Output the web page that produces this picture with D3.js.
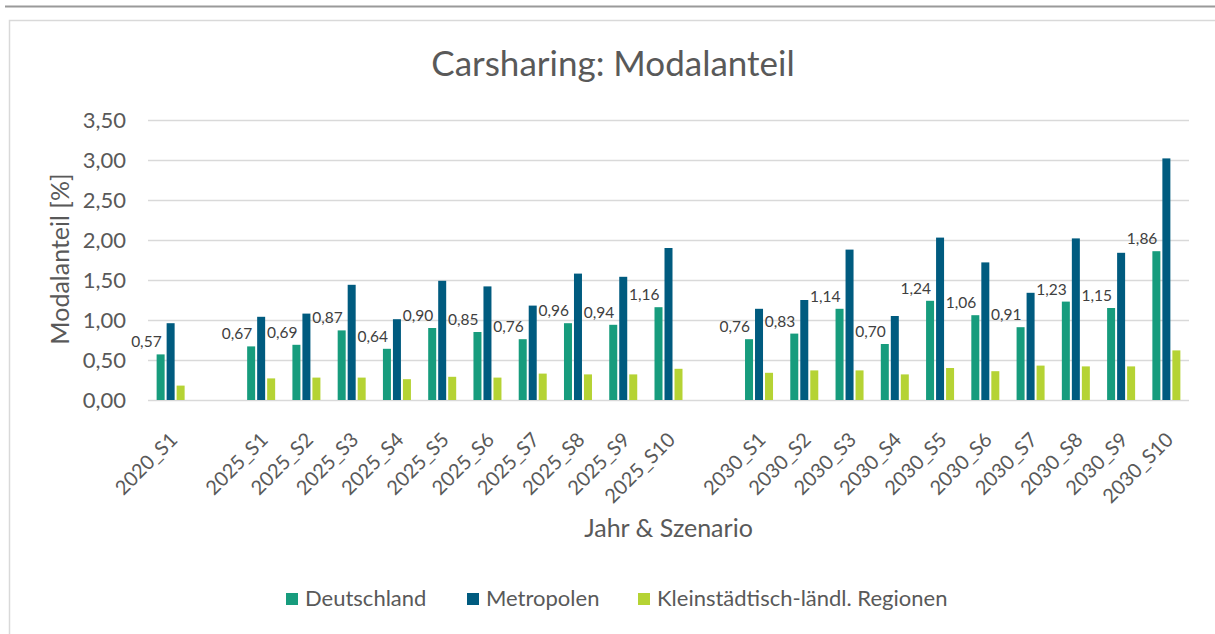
<!DOCTYPE html>
<html>
<head>
<meta charset="utf-8">
<script src="https://cdn.jsdelivr.net/npm/d3@7"></script>
<style>
  body { margin: 0; background: #fff; }
  svg { display: block; }
  text { font-family: Lato, "Open Sans", sans-serif; fill: #595959; }
</style>
</head>
<body>
<div id="chart"></div>
<script>
// categories, with one empty slot between the years
const categories2020 = ["2020_S1"];
const categories2025 = ["2025_S1", "2025_S2", "2025_S3", "2025_S4", "2025_S5", "2025_S6", "2025_S7", "2025_S8", "2025_S9", "2025_S10"];
const categories2030 = ["2030_S1", "2030_S2", "2030_S3", "2030_S4", "2030_S5", "2030_S6", "2030_S7", "2030_S8", "2030_S9", "2030_S10"];

const seriesNames = ["Deutschland", "Metropolen", "Kleinstädtisch-ländl. Regionen"];
const seriesColors = ["#179c7d", "#005b7f", "#b5d334"];

// values in %, same order as the categories
const deutschland = [0.57, 0.67, 0.69, 0.87, 0.64, 0.90, 0.85, 0.76, 0.96, 0.94, 1.16, 0.76, 0.83, 1.14, 0.70, 1.24, 1.06, 0.91, 1.23, 1.15, 1.86];
const metropolen = [0.96, 1.04, 1.08, 1.44, 1.01, 1.49, 1.42, 1.18, 1.58, 1.54, 1.90, 1.14, 1.25, 1.88, 1.05, 2.03, 1.72, 1.34, 2.02, 1.84, 3.02];
const kleinstaedtisch = [0.18, 0.27, 0.28, 0.28, 0.26, 0.29, 0.28, 0.33, 0.32, 0.32, 0.39, 0.34, 0.37, 0.37, 0.32, 0.40, 0.36, 0.43, 0.42, 0.42, 0.62];

const yTicks = [0, 0.5, 1, 1.5, 2, 2.5, 3, 3.5];

const W = 1215, H = 634;
var margin = {top: 120, right: 26, bottom: 234, left: 148};
var width = W - margin.left - margin.right,
    height = H - margin.top - margin.bottom;

var categories = categories2020.concat(categories2025, categories2030);
var slots = categories2020.concat(["gap1"], categories2025, ["gap2"], categories2030);
var seriesValues = [deutschland, metropolen, kleinstaedtisch];

var rows = categories.map(function(c, i) {
  return {cat: c, values: seriesValues.map(function(s, k) { return {key: seriesNames[k], v: s[i]}; })};
});

var fmt = function(v) { return d3.format(".2f")(v).replace(".", ","); };

var svg = d3.select("#chart").append("svg")
  .attr("width", W)
  .attr("height", H);

// page line and chart frame
svg.append("line")
  .attr("x1", 5).attr("x2", W).attr("y1", 6.5).attr("y2", 6.5)
  .attr("stroke", "#9a9a9a").attr("stroke-width", 2);
svg.append("rect")
  .attr("x", 9.5).attr("y", 20.5).attr("width", W + 20).attr("height", H + 20)
  .attr("fill", "none").attr("stroke", "#d9d9d9").attr("stroke-width", 1.5);

svg.append("text")
  .attr("x", 613).attr("y", 76)
  .attr("text-anchor", "middle")
  .style("font-size", "35px")
  .text("Carsharing: Modalanteil");

var g = svg.append("g")
  .attr("transform", "translate(" + margin.left + "," + margin.top + ")");

var x0 = d3.scaleBand().domain(slots).range([0, width]);
var x1 = d3.scaleBand().domain(seriesNames).range([0, 28]).paddingInner(0.2);
var y = d3.scaleLinear().domain([0, 3.5]).range([height, 0]);
var color = d3.scaleOrdinal().domain(seriesNames).range(seriesColors);

// gridlines + y axis labels
g.append("g")
  .call(d3.axisLeft(y).tickValues(yTicks).tickSize(-width).tickFormat(fmt).tickPadding(22))
  .call(function(a) {
    a.select(".domain").remove();
    a.selectAll(".tick line").attr("stroke", "#d9d9d9").attr("stroke-width", 1.3);
    a.selectAll(".tick text").style("font-size", "22px").style("font-family", "Lato, sans-serif").attr("fill", "#595959");
  });

// x axis labels
g.append("g")
  .attr("transform", "translate(0," + height + ")")
  .call(d3.axisBottom(x0).tickSize(0).tickFormat(function(d) { return d.indexOf("gap") == 0 ? "" : d; }))
  .call(function(a) {
    a.select(".domain").remove();
    a.selectAll(".tick text")
      .style("font-size", "20px")
      .style("font-family", "Lato, sans-serif")
      .attr("fill", "#595959")
      .attr("text-anchor", "end")
      .attr("dy", null)
      .attr("y", 0)
      .attr("transform", "translate(8,41) rotate(-45)");
  });

var groups = g.append("g").selectAll("g")
  .data(rows)
  .join("g")
  .attr("transform", function(d) { return "translate(" + (x0(d.cat) + (x0.bandwidth() - 28) / 2) + ",0)"; });

groups.selectAll("rect")
  .data(function(d) { return d.values; })
  .join("rect")
  .attr("x", function(d) { return x1(d.key); })
  .attr("y", function(d) { return y(d.v); })
  .attr("width", x1.bandwidth())
  .attr("height", function(d) { return height - y(d.v); })
  .attr("fill", function(d) { return color(d.key); });

// labels only for Deutschland
groups.append("text")
  .attr("x", function(d) { return x1(seriesNames[0]) + x1.bandwidth() / 2 + 1; })
  .attr("y", function(d) { return y(d.values[0].v) - 7; })
  .attr("text-anchor", "end")
  .style("font-size", "15.5px")
  .style("fill", "#404040")
  .text(function(d) { return fmt(d.values[0].v); });

// axis titles
svg.append("text")
  .attr("transform", "translate(69,259) rotate(-90)")
  .attr("text-anchor", "middle")
  .style("font-size", "25px")
  .text("Modalanteil [%]");

svg.append("text")
  .attr("x", margin.left + width / 2).attr("y", 537)
  .attr("text-anchor", "middle")
  .style("font-size", "25px")
  .text("Jahr & Szenario");

// legend
var legendX = [286, 467, 638];
var legend = svg.append("g").selectAll("g")
  .data(seriesNames)
  .join("g")
  .attr("transform", function(d, i) { return "translate(" + legendX[i] + ",593)"; });
legend.append("rect")
  .attr("width", 12).attr("height", 12)
  .attr("fill", function(d) { return color(d); });
legend.append("text")
  .attr("x", 19).attr("y", 13)
  .style("font-size", "22px")
  .text(function(d) { return d; });
</script>
</body>
</html>
